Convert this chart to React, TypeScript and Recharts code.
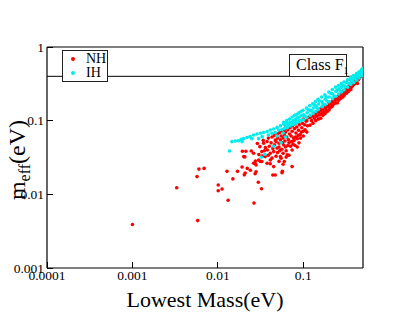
import { ScatterChart, Scatter, XAxis, YAxis, ReferenceLine, Legend } from "recharts";

// log-log scatter: m_eff against lightest neutrino mass, NH (red) vs IH (cyan)
const xMajorTicks = [0.0001, 0.001, 0.01, 0.1];
const xTickLabels = ["0.0001", "0.001", "0.01", "0.1"];
const xMinorTicks = [
  0.0002, 0.0003, 0.0004, 0.0005, 0.0006, 0.0007, 0.0008, 0.0009,
  0.002, 0.003, 0.004, 0.005, 0.006, 0.007, 0.008, 0.009,
  0.02, 0.03, 0.04, 0.05, 0.06, 0.07, 0.08, 0.09,
  0.2, 0.3, 0.4,
];
const yMajorTicks = [0.001, 0.01, 0.1, 1];
const yTickLabels = ["0.001", "0.01", "0.1", "1"];
const yMinorTicks = [
  0.002, 0.003, 0.004, 0.005, 0.006, 0.007, 0.008, 0.009,
  0.02, 0.03, 0.04, 0.05, 0.06, 0.07, 0.08, 0.09,
  0.2, 0.3, 0.4, 0.5, 0.6, 0.7, 0.8, 0.9,
];
const xDomain = [0.0001, 0.5];
const yDomain = [0.001, 1];
const upperLimit = 0.4;
const seriesNames = ["NH", "IH"];
const seriesColors = ["#ff0000", "#00ecec"];
const xTitle = "Lowest Mass(eV)";
const panelLabel = "Class F";
const panelSub = "1";

// NH (normal hierarchy) points [lowest mass, m_eff]
const nhPoints: [number, number][] = [
  [0.001, 0.0039], [0.0033, 0.0123], [0.0058, 0.0044], [0.0057, 0.0174], [0.006, 0.022], [0.0069, 0.0225],
  [0.0101, 0.0134], [0.0112, 0.0118], [0.0101, 0.0112], [0.0132, 0.0083], [0.0128, 0.0205], [0.015, 0.0162],
  [0.017, 0.0205], [0.0192, 0.0235], [0.0209, 0.0195], [0.0204, 0.0184], [0.0221, 0.0225], [0.024, 0.0212],
  [0.028, 0.0203], [0.0273, 0.019], [0.0298, 0.0146], [0.0324, 0.0119], [0.0265, 0.0076],
  [0.0207, 0.0322], [0.0194, 0.0384], [0.0213, 0.0384], [0.0246, 0.0388], [0.0273, 0.0264], [0.028, 0.025],
  [0.0275, 0.0284], [0.0302, 0.0346], [0.0327, 0.0279], [0.0201, 0.0325], [0.0262, 0.0264],
  [0.029, 0.049], [0.0343, 0.0493], [0.0377, 0.052], [0.031, 0.0444], [0.0262, 0.0361], [0.0327, 0.038],
  [0.03, 0.0293], [0.0314, 0.0279], [0.0358, 0.0325], [0.0411, 0.0361], [0.0411, 0.0293], [0.0377, 0.0264],
  [0.045, 0.038], [0.0493, 0.0424], [0.045, 0.0238], [0.047, 0.0183], [0.044, 0.0183], [0.0564, 0.0197],
  [0.074, 0.0238], [0.06, 0.0279], [0.054, 0.0325], [0.065, 0.0343], [0.074, 0.04], [0.059, 0.0467],
  [0.052, 0.0493], [0.047, 0.0547], [0.058, 0.0256], [0.057, 0.0205],
  [0.04, 0.045], [0.042, 0.05], [0.044, 0.042], [0.046, 0.047], [0.048, 0.052], [0.05, 0.058],
  [0.052, 0.044], [0.054, 0.055], [0.055, 0.062], [0.057, 0.05], [0.058, 0.058], [0.06, 0.064],
  [0.061, 0.053], [0.062, 0.07], [0.064, 0.06], [0.066, 0.075], [0.067, 0.055], [0.069, 0.066],
  [0.07, 0.08], [0.072, 0.062], [0.074, 0.072], [0.075, 0.085], [0.077, 0.058], [0.079, 0.078],
  [0.08, 0.09], [0.082, 0.068], [0.084, 0.082], [0.086, 0.095], [0.088, 0.074], [0.09, 0.088],
  [0.092, 0.065], [0.094, 0.1], [0.096, 0.08], [0.098, 0.092], [0.1, 0.105], [0.1, 0.072],
  [0.104, 0.088], [0.108, 0.098], [0.112, 0.085], [0.115, 0.11],
  [0.038, 0.04], [0.036, 0.043], [0.039, 0.034], [0.043, 0.031], [0.048, 0.033], [0.05, 0.037],
  [0.053, 0.039], [0.056, 0.041], [0.058, 0.036], [0.062, 0.044], [0.063, 0.039], [0.066, 0.046],
  [0.068, 0.05], [0.071, 0.045], [0.073, 0.052], [0.076, 0.048], [0.078, 0.054], [0.081, 0.06],
  [0.085, 0.057], [0.087, 0.063], [0.089, 0.05], [0.093, 0.058], [0.095, 0.07], [0.1, 0.062],
  [0.105, 0.075], [0.11, 0.07],
  [0.033, 0.033], [0.035, 0.039], [0.041, 0.026], [0.052, 0.028], [0.055, 0.031], [0.063, 0.032],
  [0.068, 0.034], [0.08, 0.046], [0.085, 0.044], [0.034, 0.054], [0.039, 0.058], [0.043, 0.06],
  [0.046, 0.063], [0.05, 0.066], [0.053, 0.069], [0.057, 0.072], [0.06, 0.076],
  [0.12, 0.087], [0.12, 0.11], [0.125, 0.1], [0.13, 0.115], [0.13, 0.092], [0.135, 0.108],
  [0.14, 0.12], [0.14, 0.1], [0.145, 0.115], [0.15, 0.13], [0.15, 0.105], [0.155, 0.12],
  [0.16, 0.135], [0.16, 0.108], [0.165, 0.125], [0.17, 0.14], [0.17, 0.118], [0.175, 0.13],
  [0.18, 0.15], [0.18, 0.125], [0.185, 0.14], [0.19, 0.155], [0.19, 0.132], [0.2, 0.16],
  [0.2, 0.14], [0.205, 0.15], [0.21, 0.17], [0.215, 0.155], [0.22, 0.18], [0.22, 0.16],
  [0.23, 0.17], [0.235, 0.19], [0.24, 0.175], [0.25, 0.2], [0.25, 0.174], [0.26, 0.19],
  [0.27, 0.21], [0.275, 0.2], [0.28, 0.22], [0.29, 0.21], [0.3, 0.235], [0.3, 0.22],
  [0.31, 0.24], [0.32, 0.25], [0.32, 0.235], [0.33, 0.26], [0.34, 0.25], [0.35, 0.27],
  [0.36, 0.28], [0.36, 0.265], [0.37, 0.29], [0.38, 0.3], [0.39, 0.31], [0.4, 0.32],
  [0.41, 0.33], [0.42, 0.34], [0.43, 0.32], [0.44, 0.36], [0.45, 0.37], [0.46, 0.39],
  [0.47, 0.4], [0.48, 0.42], [0.49, 0.43], [0.5, 0.44], [0.5, 0.47], [0.49, 0.5],
  [0.48, 0.46], [0.46, 0.43], [0.44, 0.41], [0.42, 0.39], [0.4, 0.36], [0.38, 0.34],
  [0.36, 0.31], [0.34, 0.29], [0.32, 0.27], [0.3, 0.255], [0.28, 0.24], [0.26, 0.22],
  [0.24, 0.2], [0.22, 0.19], [0.2, 0.175], [0.18, 0.16], [0.16, 0.145], [0.14, 0.128],
  [0.12, 0.112], [0.11, 0.1],
];

// IH (inverted hierarchy) points [lowest mass, m_eff]
const ihPoints: [number, number][] = [
  [0.0137, 0.0388], [0.0146, 0.0519], [0.016, 0.053], [0.0174, 0.0535], [0.0187, 0.0557], [0.02, 0.057],
  [0.0192, 0.052], [0.0219, 0.059], [0.0238, 0.0607], [0.0262, 0.064], [0.0287, 0.066], [0.0314, 0.0675],
  [0.0343, 0.069], [0.0377, 0.071], [0.0411, 0.0748], [0.045, 0.077], [0.0493, 0.081], [0.054, 0.085],
  [0.0589, 0.09], [0.0646, 0.094],
  [0.025, 0.057], [0.03, 0.057], [0.033, 0.0607], [0.039, 0.064], [0.043, 0.0675], [0.047, 0.069],
  [0.0516, 0.0748], [0.056, 0.076], [0.062, 0.083], [0.0675, 0.087], [0.074, 0.092], [0.081, 0.097],
  [0.089, 0.102], [0.0355, 0.035], [0.0323, 0.0318], [0.045, 0.045], [0.055, 0.05], [0.062, 0.06],
  [0.049, 0.062], [0.058, 0.068],
  [0.06, 0.078], [0.061, 0.088], [0.059, 0.095], [0.065, 0.08], [0.066, 0.092], [0.064, 0.1],
  [0.07, 0.085], [0.071, 0.095], [0.069, 0.105], [0.075, 0.088], [0.076, 0.1], [0.074, 0.112],
  [0.08, 0.09], [0.081, 0.105], [0.079, 0.118], [0.085, 0.095], [0.086, 0.11], [0.084, 0.122],
  [0.09, 0.098], [0.091, 0.113], [0.089, 0.128], [0.095, 0.1], [0.096, 0.118], [0.094, 0.133],
  [0.1, 0.103], [0.101, 0.12], [0.099, 0.138], [0.11, 0.11], [0.111, 0.128], [0.109, 0.148],
  [0.12, 0.118], [0.121, 0.138], [0.119, 0.16], [0.13, 0.125], [0.131, 0.148], [0.129, 0.17],
  [0.14, 0.133], [0.141, 0.158], [0.139, 0.182], [0.15, 0.142], [0.151, 0.168], [0.149, 0.195],
  [0.165, 0.155], [0.166, 0.18], [0.164, 0.21], [0.18, 0.165], [0.181, 0.195], [0.179, 0.225],
  [0.2, 0.18], [0.201, 0.21], [0.199, 0.245], [0.22, 0.198], [0.221, 0.23], [0.219, 0.265],
  [0.24, 0.215], [0.241, 0.25], [0.239, 0.285], [0.26, 0.23], [0.261, 0.27], [0.259, 0.3],
  [0.28, 0.245], [0.281, 0.285], [0.279, 0.318], [0.3, 0.262], [0.301, 0.3], [0.299, 0.335],
  [0.33, 0.285], [0.331, 0.325], [0.329, 0.36], [0.36, 0.31], [0.361, 0.35], [0.359, 0.385],
  [0.39, 0.33], [0.391, 0.375], [0.389, 0.41], [0.42, 0.355], [0.421, 0.4], [0.419, 0.435],
  [0.45, 0.38], [0.451, 0.42], [0.449, 0.46], [0.48, 0.41], [0.481, 0.45], [0.479, 0.49],
  [0.5, 0.44], [0.5, 0.47], [0.5, 0.51],
  [0.105, 0.115], [0.115, 0.14], [0.125, 0.135], [0.135, 0.165], [0.145, 0.15], [0.155, 0.185],
  [0.17, 0.17], [0.185, 0.21], [0.19, 0.185], [0.21, 0.235], [0.23, 0.215], [0.25, 0.26],
  [0.27, 0.255], [0.29, 0.3], [0.31, 0.29], [0.32, 0.33], [0.345, 0.32], [0.35, 0.365],
  [0.375, 0.355], [0.38, 0.39], [0.405, 0.385], [0.435, 0.42], [0.44, 0.4], [0.465, 0.445],
  [0.47, 0.43], [0.49, 0.47],
];

const nhData = nhPoints.map(([x, y]) => ({ x, y }));
const ihData = ihPoints.map(([x, y]) => ({ x, y }));

const SERIF = "'Liberation Serif', 'Times New Roman', serif";
const tickFont = { fontSize: 13.5, fontFamily: SERIF, fill: "#000" };
const black = { stroke: "#000", strokeWidth: 1, shapeRendering: "crispEdges" };
const frame = { stroke: "#000", strokeWidth: 1.2 };

function Dot({ cx, cy, fill }: any) {
  return <circle cx={cx} cy={cy} r={1.8} fill={fill} />;
}

function LegendBox() {
  return (
    <div
      style={{
        width: 44, height: 29, border: "1px solid #222", background: "#fff",
        fontFamily: SERIF, fontSize: 14, lineHeight: "14px", boxSizing: "content-box", paddingTop: 1,
      }}
    >
      {seriesNames.map((name, i) => (
        <div key={name} style={{ display: "flex", alignItems: "center", height: 14 }}>
          <span style={{ width: 4, height: 4, borderRadius: 2, background: seriesColors[i], marginLeft: 8, marginRight: 11 }} />
          <span>{name}</span>
        </div>
      ))}
    </div>
  );
}

export default function App() {
  return (
    <div style={{ position: "absolute", left: 0, top: 0, width: 409, height: 316, background: "#fff" }}>
      <ScatterChart width={409} height={316} margin={{ top: 47, right: 46, bottom: 18, left: 7 }}>
        {/* main axes: labels outside, major ticks pointing inward */}
        <XAxis
          xAxisId="b" dataKey="x" type="number" scale="log" domain={xDomain} allowDataOverflow
          ticks={xMajorTicks} interval={0} tickSize={-6} tickMargin={8} height={30}
          tickFormatter={(v: number) => xTickLabels[xMajorTicks.indexOf(v)]}
          tick={tickFont} tickLine={black} axisLine={frame}
          label={() => (
            <text x={205} y={307} textAnchor="middle" fontSize={22} fontFamily={SERIF} fill="#000">
              {xTitle}
            </text>
          )}
        />
        <YAxis
          yAxisId="l" dataKey="y" type="number" scale="log" domain={yDomain} allowDataOverflow
          ticks={yMajorTicks} interval={0} tickSize={-6} tickMargin={9} width={40}
          tickFormatter={(v: number) => yTickLabels[yMajorTicks.indexOf(v)]}
          tick={tickFont} tickLine={black} axisLine={frame}
          label={() => (
            <text transform="translate(25,160) rotate(-90)" textAnchor="middle" fontSize={24} fontFamily={SERIF} fill="#000">
              m<tspan fontSize={16} dy={5}>eff</tspan><tspan dy={-5}>(eV)</tspan>
            </text>
          )}
        />
        {/* mirrored axes: minor ticks and the top/right frame */}
        <XAxis
          xAxisId="bm" orientation="bottom" mirror type="number" scale="log" domain={xDomain} allowDataOverflow
          ticks={xMinorTicks} interval={0} tickSize={3} tick={false} tickLine={black} axisLine={false}
        />
        <XAxis
          xAxisId="t" orientation="top" mirror type="number" scale="log" domain={xDomain} allowDataOverflow
          ticks={xMajorTicks} interval={0} tickSize={6} tick={false} tickLine={black} axisLine={frame}
        />
        <XAxis
          xAxisId="tm" orientation="top" mirror type="number" scale="log" domain={xDomain} allowDataOverflow
          ticks={xMinorTicks} interval={0} tickSize={3} tick={false} tickLine={black} axisLine={false}
        />
        <YAxis
          yAxisId="lm" orientation="left" mirror type="number" scale="log" domain={yDomain} allowDataOverflow
          ticks={yMinorTicks} interval={0} tickSize={3} tick={false} tickLine={black} axisLine={false}
        />
        <YAxis
          yAxisId="r" orientation="right" mirror type="number" scale="log" domain={yDomain} allowDataOverflow
          ticks={yMajorTicks} interval={0} tickSize={6} tick={false} tickLine={black} axisLine={frame}
        />
        <YAxis
          yAxisId="rm" orientation="right" mirror type="number" scale="log" domain={yDomain} allowDataOverflow
          ticks={yMinorTicks} interval={0} tickSize={3} tick={false} tickLine={black} axisLine={false}
        />
        <ReferenceLine xAxisId="b" yAxisId="l" y={upperLimit} stroke="#000" strokeWidth={1} ifOverflow="hidden" />
        <Scatter
          xAxisId="b" yAxisId="l" name={seriesNames[0]} data={nhData} fill={seriesColors[0]}
          shape={<Dot />} isAnimationActive={false}
        />
        <Scatter
          xAxisId="b" yAxisId="l" name={seriesNames[1]} data={ihData} fill={seriesColors[1]}
          shape={<Dot />} isAnimationActive={false}
        />
        <Legend
          layout="horizontal" verticalAlign="middle" align="center"
          wrapperStyle={{ position: "absolute", left: 62, top: 50, width: "auto", height: "auto" }}
          content={<LegendBox />}
        />
      </ScatterChart>
      <div
        style={{
          position: "absolute", left: 289, top: 54, width: 56, height: 21, border: "1px solid #222",
          borderBottom: "none", background: "#fff", fontFamily: SERIF, fontSize: 16,
          whiteSpace: "nowrap", boxSizing: "content-box",
        }}
      >
        <span style={{ position: "absolute", left: 6, top: 1 }}>
          {panelLabel}
          <sub style={{ fontSize: 10, verticalAlign: "-4px" }}>{panelSub}</sub>
        </span>
      </div>
    </div>
  );
}
